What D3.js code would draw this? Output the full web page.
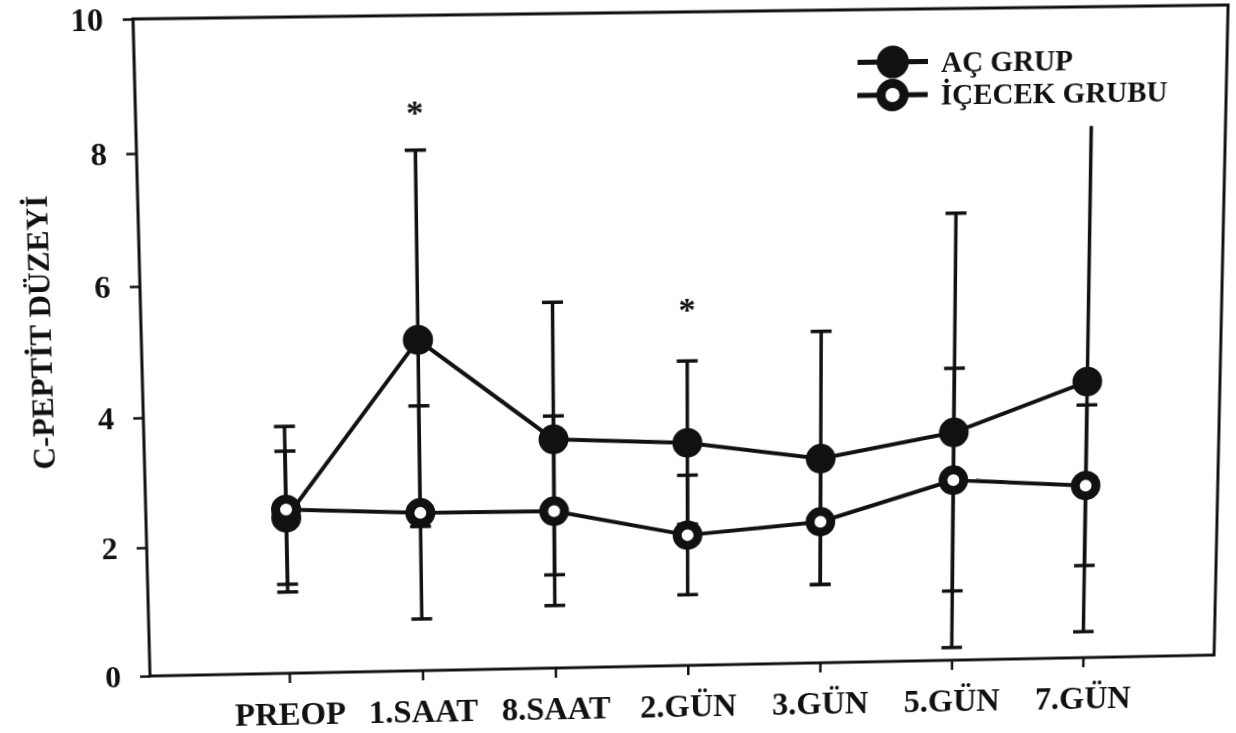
<!DOCTYPE html>
<html>
<head>
<meta charset="utf-8">
<script src="https://cdn.jsdelivr.net/npm/d3@7"></script>
<style>
  html, body { margin: 0; padding: 0; background: #fff; overflow: hidden; width: 1236px; height: 733px; }
  #chart { position: absolute; left: 0; top: 0; width: 1236px; height: 733px; }
  #chart svg { position: absolute; left: 0; top: 0; transform-origin: 0 0; }
</style>
</head>
<body>
<div id="chart"></div>
<script>
// ---- data ----
const categories = ["PREOP", "1.SAAT", "8.SAAT", "2.GÜN", "3.GÜN", "5.GÜN", "7.GÜN"];
const acMean  = [2.42, 5.12, 3.56, 3.47, 3.19, 3.56, 4.31];   // AÇ GRUP
const acSD    = [1.03, 2.87, 2.10, 1.26, 1.96, 3.36, 3.90];
const icMean  = [2.55, 2.46, 2.45, 2.04, 2.21, 2.82, 2.70];   // İÇECEK GRUBU
const icSD    = [1.28, 1.65, 1.47, 0.93, 0.98, 1.73, 1.25];
const acUpperCap = [true, true, true, true, true, true, false]; // 7.GÜN upper whisker printed without a cap
const yTicks  = [0, 2, 4, 6, 8, 10];
const sigCats = ["1.SAAT", "2.GÜN"];
const sigAt   = [8.62, 5.59];
const seriesNames = ["AÇ GRUP", "İÇECEK GRUBU"];
const yTitle = "C-PEPTİT DÜZEYİ";

// ---- layout ----
const W = 1080, H = 655, ox = 150, oy = 40, SW = 1280, SH = 800;
const ink = "#111";
const font = "'Liberation Serif', 'Times New Roman', 'DejaVu Serif', serif";

const svg = d3.select("#chart").append("svg").attr("width", SW).attr("height", SH);
const g = svg.append("g").attr("transform", `translate(${ox},${oy})`);

const x = d3.scalePoint().domain(categories).range([140, 945.6]);
const y = d3.scaleLinear().domain([0, 10]).range([H, 0]);

// axes
const ya = g.append("g").call(d3.axisLeft(y).tickValues(yTicks).tickSize(10).tickPadding(19).tickSizeOuter(0));
ya.select(".domain").remove();
ya.selectAll("line").attr("stroke", ink).attr("stroke-width", 2.5);
ya.selectAll("text").attr("fill", ink).style("font-family", font).style("font-weight", "bold").style("font-size", "32px");

const xa = g.append("g").attr("transform", `translate(0,${H})`)
  .call(d3.axisBottom(x).tickSize(10).tickPadding(20).tickSizeOuter(0));
xa.select(".domain").remove();
xa.selectAll("line").attr("stroke", ink).attr("stroke-width", 2.5);
xa.selectAll("text").attr("fill", ink).style("font-family", font).style("font-weight", "bold").style("font-size", "33px");

// frame
g.append("rect").attr("x", 0).attr("y", 0).attr("width", W).attr("height", H)
  .attr("fill", "none").attr("stroke", ink).attr("stroke-width", 3);

// y title
g.append("text").attr("transform", `translate(-100,307) rotate(-90)`)
  .attr("text-anchor", "middle").attr("dy", "0.35em")
  .attr("fill", ink).style("font-family", font).style("font-weight", "bold").style("font-size", "31px")
  .text(yTitle);

// error bars
const series = [
  { mean: acMean, sd: acSD, upperCap: acUpperCap },
  { mean: icMean, sd: icSD, upperCap: categories.map(() => true) }
];
const capW = 10.5;
series.forEach(s => {
  const eb = g.append("g").attr("stroke", ink).attr("stroke-width", 3.5).attr("fill", "none");
  categories.forEach((c, i) => {
    const cx = x(c), top = y(s.mean[i] + s.sd[i]), bot = y(s.mean[i] - s.sd[i]);
    eb.append("line").attr("x1", cx).attr("x2", cx).attr("y1", top).attr("y2", bot);
    if (s.upperCap[i]) eb.append("line").attr("x1", cx - capW).attr("x2", cx + capW).attr("y1", top).attr("y2", top);
    eb.append("line").attr("x1", cx - capW).attr("x2", cx + capW).attr("y1", bot).attr("y2", bot);
  });
});

// lines
const line = d3.line().x((d, i) => x(categories[i])).y(d => y(d));
series.forEach(s => {
  g.append("path").datum(s.mean).attr("d", line)
    .attr("fill", "none").attr("stroke", ink).attr("stroke-width", 4).attr("stroke-linejoin", "round");
});

// markers
g.append("g").selectAll("circle").data(acMean).join("circle")
  .attr("cx", (d, i) => x(categories[i])).attr("cy", d => y(d)).attr("r", 15).attr("fill", ink);
g.append("g").selectAll("circle").data(icMean).join("circle")
  .attr("cx", (d, i) => x(categories[i])).attr("cy", d => y(d)).attr("r", 10.5)
  .attr("fill", "#fff").attr("stroke", ink).attr("stroke-width", 9);

// significance marks
g.append("g").selectAll("text").data(sigCats).join("text")
  .attr("x", d => x(d)).attr("y", (d, i) => y(sigAt[i])).attr("dy", "0.47em")
  .attr("text-anchor", "middle").attr("fill", ink)
  .style("font-family", font).style("font-weight", "bold").style("font-size", "34px")
  .text("*");

// legend
const lg = g.append("g").attr("transform", "translate(747,51.6)");
seriesNames.forEach((name, i) => {
  const row = lg.append("g").attr("transform", `translate(0,${i * 32.4})`);
  row.append("line").attr("x1", -35).attr("x2", 35).attr("y1", 0).attr("y2", 0)
    .attr("stroke", ink).attr("stroke-width", 5);
  if (i === 0) {
    row.append("circle").attr("r", 16).attr("fill", ink);
  } else {
    row.append("circle").attr("r", 11.5).attr("fill", "#fff").attr("stroke", ink).attr("stroke-width", 9);
  }
  row.append("text").attr("x", 48).attr("dy", "0.36em").attr("fill", ink)
    .style("font-family", font).style("font-weight", "bold").style("font-size", "29px")
    .text(name);
});

// ---- map the flat drawing onto the photographed (skewed) sheet ----
function squareToQuad(q) {
  const [x0, y0] = q[0], [x1, y1] = q[1], [x2, y2] = q[2], [x3, y3] = q[3];
  const dx1 = x1 - x2, dx2 = x3 - x2, dx3 = x0 - x1 + x2 - x3;
  const dy1 = y1 - y2, dy2 = y3 - y2, dy3 = y0 - y1 + y2 - y3;
  const den = dx1 * dy2 - dx2 * dy1;
  const gg = (dx3 * dy2 - dx2 * dy3) / den, hh = (dx1 * dy3 - dx3 * dy1) / den;
  return [
    [x1 - x0 + gg * x1, x3 - x0 + hh * x3, x0],
    [y1 - y0 + gg * y1, y3 - y0 + hh * y3, y0],
    [gg, hh, 1]
  ];
}
function mul(A, B) {
  const R = [[0,0,0],[0,0,0],[0,0,0]];
  for (let i = 0; i < 3; i++) for (let j = 0; j < 3; j++)
    for (let k = 0; k < 3; k++) R[i][j] += A[i][k] * B[k][j];
  return R;
}
const quad = [[133, 19], [1228, 5], [1214, 655], [150, 676]];
const Hq = squareToQuad(quad);
const S = [[1 / W, 0, -ox / W], [0, 1 / H, -oy / H], [0, 0, 1]];
const M = mul(Hq, S);
svg.style("transform",
  `matrix3d(${M[0][0]},${M[1][0]},0,${M[2][0]},${M[0][1]},${M[1][1]},0,${M[2][1]},0,0,1,0,${M[0][2]},${M[1][2]},0,${M[2][2]})`);
</script>
</body>
</html>
